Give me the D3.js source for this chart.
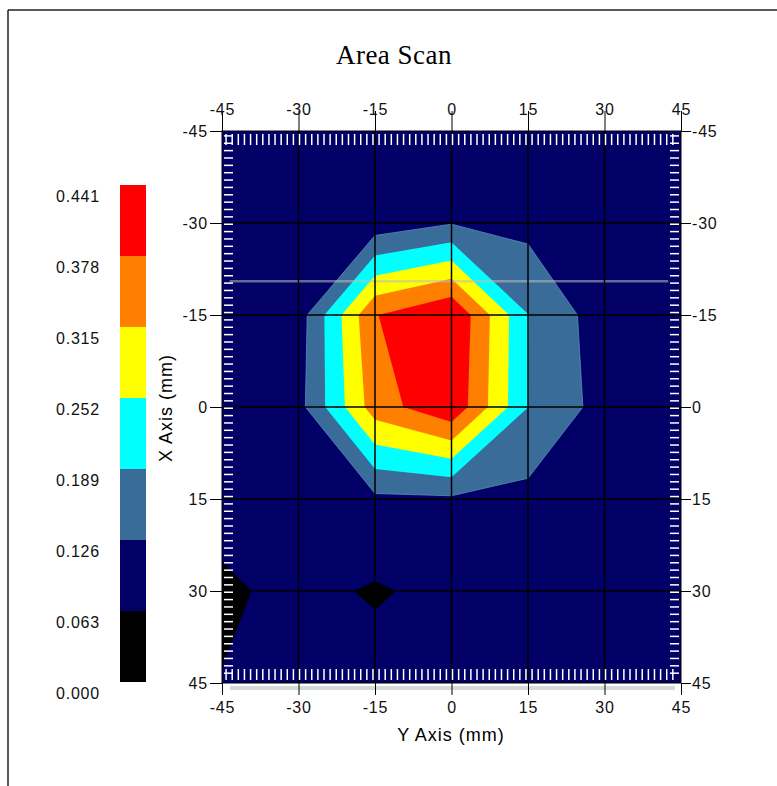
<!DOCTYPE html>
<html>
<head>
<meta charset="utf-8">
<script src="https://cdn.jsdelivr.net/npm/d3@7"></script>
<style>
  body { margin: 0; background: #fff; }
  text { font-family: "Liberation Sans", Arial, sans-serif; }
</style>
</head>
<body>
<div id="chart"></div>
<script>
// grid positions (mm) and tick labels
var axisTicks = [-45, -30, -15, 0, 15, 30, 45];

// contour levels and their fill colours
var levelValues = [0, 0.063, 0.126, 0.189, 0.252, 0.315, 0.378, 0.441];
var levelLabels = ["0.000", "0.063", "0.126", "0.189", "0.252", "0.315", "0.378", "0.441"];
var levelColors = ["#000000", "#000066", "#3a6c99", "#00ffff", "#ffff00", "#ff8000", "#ff0000"];

// scan values, one row per X position (-45 .. 45), columns are Y positions (-45 .. 45)
var rowXm45 = [0.092, 0.095, 0.098, 0.100, 0.097, 0.094, 0.090];
var rowXm30 = [0.095, 0.100, 0.087, 0.122, 0.107, 0.100, 0.092];
var rowXm15 = [0.090, 0.094, 0.375, 0.441, 0.190, 0.091, 0.090];
var rowX0   = [0.090, 0.104, 0.348, 0.429, 0.1895, 0.101, 0.090];
var rowX15  = [0.084, 0.100, 0.112, 0.115, 0.1075, 0.100, 0.092];
var rowX30  = [0.053, 0.079, 0.057, 0.079, 0.095, 0.095, 0.090];
var rowX45  = [0.065, 0.085, 0.086, 0.095, 0.095, 0.090, 0.090];

// cursor line position on the X axis (mm)
var cursorX = -20.5;

var W = 777, H = 786;
var plot = { left: 222, right: 681, top: 131, bottom: 683 };

var svg = d3.select('#chart').append('svg')
  .attr('width', W).attr('height', H);

// outer frame
svg.append('line').attr('x1', 8).attr('y1', 10).attr('x2', W).attr('y2', 10)
  .attr('stroke', '#222').attr('stroke-width', 1.5);
svg.append('line').attr('x1', 8).attr('y1', 10).attr('x2', 8).attr('y2', H)
  .attr('stroke', '#222').attr('stroke-width', 1.5);

svg.append('text')
  .attr('x', 394).attr('y', 64)
  .attr('text-anchor', 'middle')
  .style('font-family', '"Liberation Serif", "Times New Roman", serif')
  .style('font-size', '27px')
  .style('letter-spacing', '0.5px')
  .text('Area Scan');

var xs = d3.scaleLinear().domain([-45, 45]).range([plot.left, plot.right]);
var ys = d3.scaleLinear().domain([-45, 45]).range([plot.top, plot.bottom]);

// contours
var values = [].concat(rowXm45, rowXm30, rowXm15, rowX0, rowX15, rowX30, rowX45);
var n = axisTicks.length;
var step = axisTicks[1] - axisTicks[0];
var contours = d3.contours()
  .size([n, n])
  .thresholds(levelValues.slice(0, levelColors.length))(values);

var proj = d3.geoTransform({
  point: function(x, y) {
    this.stream.point(xs(axisTicks[0] + (x - 0.5) * step), ys(axisTicks[0] + (y - 0.5) * step));
  }
});
var path = d3.geoPath(proj);

svg.append('clipPath').attr('id', 'plotclip')
  .append('rect')
  .attr('x', plot.left).attr('y', plot.top)
  .attr('width', plot.right - plot.left).attr('height', plot.bottom - plot.top);

var area = svg.append('g').attr('clip-path', 'url(#plotclip)');

area.selectAll('path.band')
  .data(contours)
  .join('path')
  .attr('class', 'band')
  .attr('d', path)
  .attr('fill', function(d, i) { return levelColors[i]; })
  .attr('stroke', function(d, i) { return i == 2 ? '#5a8cb8' : 'none'; })
  .attr('stroke-width', 0.8);

// cursor line
area.append('line')
  .attr('x1', xs(-43.5)).attr('x2', xs(42.5))
  .attr('y1', ys(cursorX)).attr('y2', ys(cursorX))
  .attr('stroke', 'rgba(190,190,190,0.55)').attr('stroke-width', 2.5);

// grid lines
var inner = axisTicks.slice(1, -1);
area.selectAll('line.gx').data(inner).join('line')
  .attr('class', 'gx')
  .attr('x1', function(d) { return xs(d); }).attr('x2', function(d) { return xs(d); })
  .attr('y1', plot.top).attr('y2', plot.bottom)
  .attr('stroke', '#000').attr('stroke-width', 1.5);
area.selectAll('line.gy').data(inner).join('line')
  .attr('class', 'gy')
  .attr('y1', function(d) { return ys(d); }).attr('y2', function(d) { return ys(d); })
  .attr('x1', plot.left).attr('x2', plot.right)
  .attr('stroke', '#000').attr('stroke-width', 1.5);

// white scan marks along the inner edges
var marks = d3.range(-44.2, 44.5, 1.2);
var mk = svg.append('g').attr('stroke', '#fff').attr('stroke-width', 1.5);
mk.selectAll('line.mt').data(marks).join('line').attr('class', 'mt')
  .attr('x1', function(d) { return xs(d); }).attr('x2', function(d) { return xs(d); })
  .attr('y1', plot.top + 3).attr('y2', plot.top + 14);
mk.selectAll('line.mb').data(marks).join('line').attr('class', 'mb')
  .attr('x1', function(d) { return xs(d); }).attr('x2', function(d) { return xs(d); })
  .attr('y1', plot.bottom - 14).attr('y2', plot.bottom - 3);
mk.selectAll('line.ml').data(marks).join('line').attr('class', 'ml')
  .attr('y1', function(d) { return ys(d); }).attr('y2', function(d) { return ys(d); })
  .attr('x1', plot.left + 2).attr('x2', plot.left + 11);
mk.selectAll('line.mr').data(marks).join('line').attr('class', 'mr')
  .attr('y1', function(d) { return ys(d); }).attr('y2', function(d) { return ys(d); })
  .attr('x1', plot.right - 11).attr('x2', plot.right - 2);

svg.append('rect')
  .attr('x', plot.left).attr('y', plot.top)
  .attr('width', plot.right - plot.left).attr('height', plot.bottom - plot.top)
  .attr('fill', 'none').attr('stroke', '#000').attr('stroke-width', 1);

// light bar under the plot
svg.append('rect')
  .attr('x', plot.left + 8).attr('y', plot.bottom + 3)
  .attr('width', plot.right - plot.left - 14).attr('height', 4)
  .attr('fill', '#d3dada');

// axes
function styleAxis(g) {
  g.select('.domain').remove();
  g.selectAll('.tick line').attr('stroke', '#000');
  g.selectAll('.tick text')
    .style('font-size', '16px')
    .style('letter-spacing', '0.8px')
    .attr('fill', '#111');
}
var fmt = function(d) { return String(d); };
svg.append('g').attr('transform', 'translate(0,' + plot.top + ')')
  .call(d3.axisTop(xs).tickValues(axisTicks).tickFormat(fmt).tickSize(20).tickPadding(-4))
  .call(styleAxis);
svg.append('g').attr('transform', 'translate(0,' + plot.bottom + ')')
  .call(d3.axisBottom(xs).tickValues(axisTicks).tickFormat(fmt).tickSize(12).tickPadding(7))
  .call(styleAxis);
svg.append('g').attr('transform', 'translate(' + plot.left + ',0)')
  .call(d3.axisLeft(ys).tickValues(axisTicks).tickFormat(fmt).tickSize(12).tickPadding(2))
  .call(styleAxis);
svg.append('g').attr('transform', 'translate(' + plot.right + ',0)')
  .call(d3.axisRight(ys).tickValues(axisTicks).tickFormat(fmt).tickSize(10).tickPadding(1))
  .call(styleAxis);

svg.append('text')
  .attr('x', 451).attr('y', 741)
  .attr('text-anchor', 'middle')
  .style('font-size', '18px').style('letter-spacing', '1px')
  .text('Y Axis (mm)');
svg.append('text')
  .attr('transform', 'translate(172,408) rotate(-90)')
  .attr('text-anchor', 'middle')
  .style('font-size', '18px').style('letter-spacing', '1px')
  .text('X Axis (mm)');

// colour bar
var cb = d3.scaleLinear().domain([0, 0.441]).range([682, 185]);
var bar = svg.append('g');
bar.selectAll('rect').data(levelColors).join('rect')
  .attr('x', 120).attr('width', 26)
  .attr('y', function(d, i) { return cb(levelValues[i + 1]); })
  .attr('height', function(d, i) { return cb(levelValues[i]) - cb(levelValues[i + 1]); })
  .attr('fill', function(d) { return d; });
bar.selectAll('text').data(levelLabels).join('text')
  .attr('x', 100).attr('text-anchor', 'end')
  .attr('y', function(d, i) { return cb(levelValues[i]) + 17; })
  .style('font-size', '16px').style('letter-spacing', '0.8px')
  .attr('fill', '#111')
  .text(function(d) { return d; });
</script>
</body>
</html>
